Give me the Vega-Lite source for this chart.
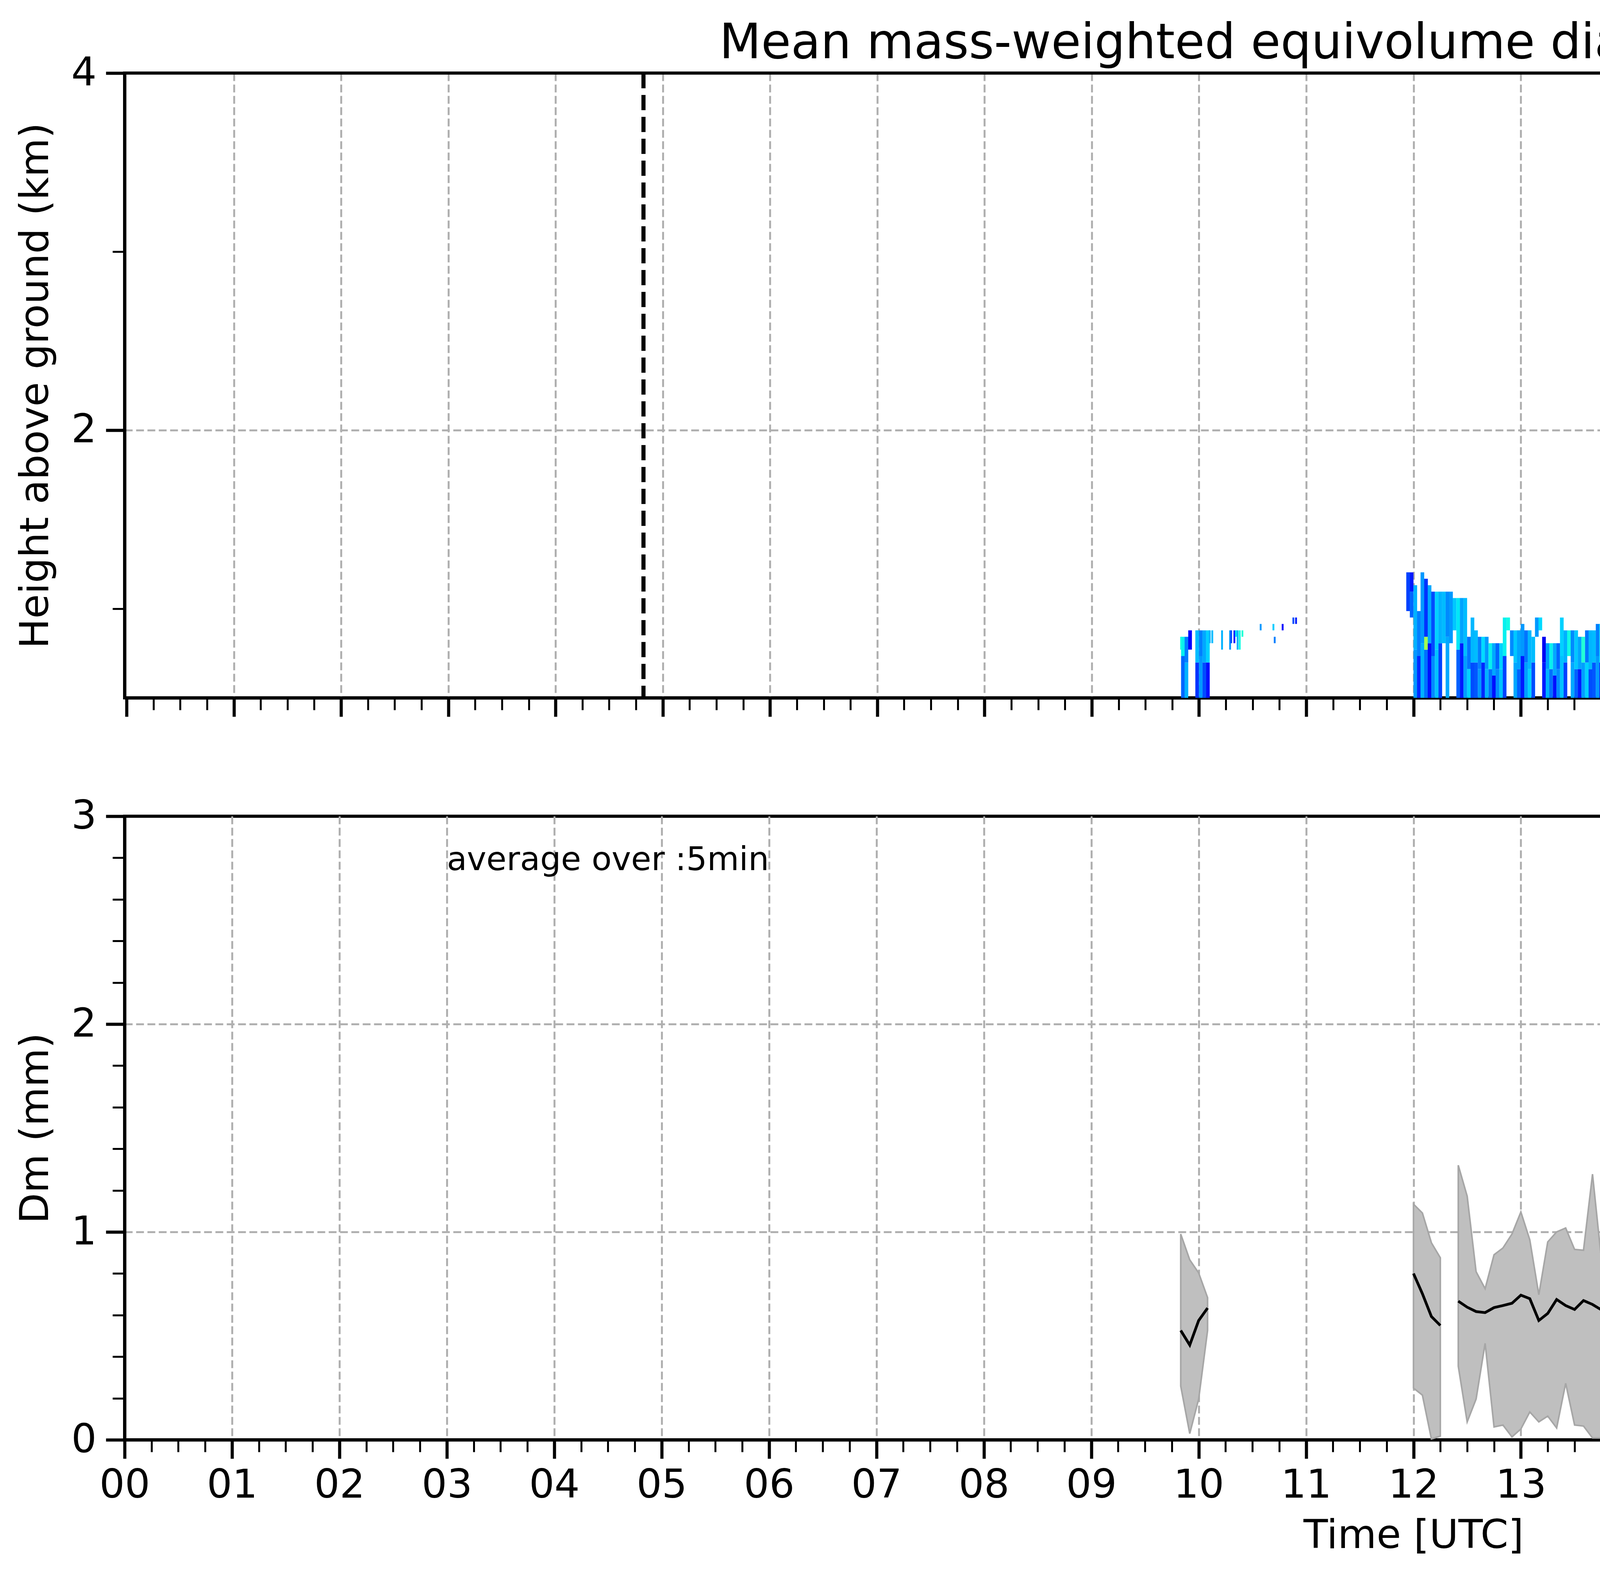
{
  "$schema": "https://vega.github.io/schema/vega-lite/v6.json",
  "background": "white",
  "padding": {"left": 36, "top": 46, "right": 40, "bottom": 58},
  "config": {
    "font": "DejaVu Sans",
    "view": {"stroke": "black", "strokeWidth": 8},
    "axis": {
      "zindex": 1,
      "domainColor": "black",
      "domainWidth": 8,
      "tickColor": "black",
      "labelColor": "black",
      "titleColor": "black",
      "labelFont": "DejaVu Sans",
      "titleFont": "DejaVu Sans",
      "labelFontSize": 102,
      "titleFontSize": 102,
      "titleFontWeight": "normal",
      "gridColor": "#b0b0b0",
      "gridDash": [20, 9],
      "gridWidth": 5,
      "labelOverlap": false,
      "labelFlush": false
    },
    "title": {"font": "DejaVu Sans", "fontSize": 124, "fontWeight": "normal", "color": "black"}
  },
  "datasets": {
    "hm": [
      {"t":9.85,"a":0.5,"b":0.734,"d":0.45},{"t":9.85,"a":0.734,"b":0.842,"d":0.72},
      {"t":9.883,"a":0.5,"b":0.698,"d":0.6},{"t":9.883,"a":0.698,"b":0.842,"d":0.5},
      {"t":9.917,"a":0.77,"b":0.878,"d":0.25},
      {"t":9.983,"a":0.5,"b":0.698,"d":0.35},{"t":9.983,"a":0.698,"b":0.878,"d":0.62},
      {"t":10.017,"a":0.5,"b":0.734,"d":0.55},{"t":10.017,"a":0.734,"b":0.878,"d":0.5},
      {"t":10.05,"a":0.5,"b":0.698,"d":0.4},{"t":10.05,"a":0.698,"b":0.878,"d":0.58},
      {"t":10.083,"a":0.5,"b":0.698,"d":0.28},{"t":10.083,"a":0.698,"b":0.878,"d":0.66},
      {"t":11.95,"a":0.986,"b":1.203,"d":0.38},
      {"t":11.983,"a":0.95,"b":1.095,"d":0.45},{"t":11.983,"a":1.095,"b":1.203,"d":0.3},
      {"t":12.017,"a":0.5,"b":0.77,"d":0.55},{"t":12.017,"a":0.77,"b":1.131,"d":0.6},
      {"t":12.05,"a":0.5,"b":0.734,"d":0.33},{"t":12.05,"a":0.734,"b":0.986,"d":0.5},
      {"t":12.083,"a":0.5,"b":0.806,"d":0.6},{"t":12.083,"a":0.806,"b":1.203,"d":0.55},
      {"t":12.117,"a":0.5,"b":0.77,"d":0.47},{"t":12.117,"a":0.77,"b":0.842,"d":1.1},{"t":12.117,"a":0.842,"b":1.167,"d":0.35},
      {"t":12.15,"a":0.5,"b":0.806,"d":0.28},{"t":12.15,"a":0.806,"b":1.131,"d":0.58},
      {"t":12.183,"a":0.5,"b":0.734,"d":0.52},{"t":12.183,"a":0.734,"b":1.095,"d":0.4},
      {"t":12.217,"a":0.5,"b":0.77,"d":0.63},{"t":12.217,"a":0.77,"b":1.095,"d":0.66},
      {"t":12.25,"a":0.5,"b":0.806,"d":0.38},{"t":12.25,"a":0.806,"b":1.095,"d":0.6},
      {"t":12.283,"a":0.806,"b":1.095,"d":0.62},
      {"t":12.317,"a":0.5,"b":0.842,"d":0.58},{"t":12.317,"a":0.842,"b":1.095,"d":0.52},
      {"t":12.35,"a":0.806,"b":1.095,"d":0.55},
      {"t":12.383,"a":0.878,"b":1.059,"d":0.64},
      {"t":12.417,"a":0.5,"b":0.77,"d":0.44},{"t":12.417,"a":0.77,"b":1.059,"d":0.7},
      {"t":12.45,"a":0.5,"b":0.806,"d":0.3},{"t":12.45,"a":0.806,"b":1.059,"d":0.57},
      {"t":12.483,"a":0.5,"b":0.734,"d":0.56},{"t":12.483,"a":0.734,"b":1.059,"d":0.62},
      {"t":12.517,"a":0.5,"b":0.661,"d":0.66},{"t":12.517,"a":0.661,"b":0.842,"d":0.48},
      {"t":12.55,"a":0.5,"b":0.698,"d":0.4},{"t":12.55,"a":0.698,"b":0.95,"d":0.61},
      {"t":12.583,"a":0.5,"b":0.698,"d":0.42},{"t":12.583,"a":0.698,"b":0.878,"d":0.62},
      {"t":12.617,"a":0.5,"b":0.661,"d":0.55},{"t":12.617,"a":0.661,"b":0.842,"d":0.5},
      {"t":12.65,"a":0.5,"b":0.698,"d":0.33},{"t":12.65,"a":0.698,"b":0.842,"d":0.68},
      {"t":12.683,"a":0.5,"b":0.661,"d":0.6},{"t":12.683,"a":0.661,"b":0.842,"d":0.55},
      {"t":12.717,"a":0.5,"b":0.661,"d":0.47},{"t":12.717,"a":0.661,"b":0.806,"d":0.72},
      {"t":12.75,"a":0.5,"b":0.625,"d":0.28},{"t":12.75,"a":0.625,"b":0.806,"d":0.58},
      {"t":12.783,"a":0.5,"b":0.661,"d":0.52},{"t":12.783,"a":0.661,"b":0.806,"d":0.45},
      {"t":12.817,"a":0.5,"b":0.661,"d":0.63},{"t":12.817,"a":0.661,"b":0.806,"d":0.66},
      {"t":12.85,"a":0.5,"b":0.734,"d":0.38},{"t":12.85,"a":0.734,"b":0.95,"d":0.72},
      {"t":12.883,"a":0.878,"b":0.95,"d":0.74},
      {"t":12.917,"a":0.734,"b":0.878,"d":0.52},
      {"t":12.95,"a":0.5,"b":0.698,"d":0.58},{"t":12.95,"a":0.698,"b":0.878,"d":0.64},
      {"t":12.983,"a":0.5,"b":0.661,"d":0.44},{"t":12.983,"a":0.661,"b":0.878,"d":0.57},
      {"t":13.017,"a":0.5,"b":0.734,"d":0.3},{"t":13.017,"a":0.734,"b":0.914,"d":0.55},
      {"t":13.05,"a":0.5,"b":0.698,"d":0.56},{"t":13.05,"a":0.698,"b":0.878,"d":0.48},
      {"t":13.083,"a":0.5,"b":0.661,"d":0.66},{"t":13.083,"a":0.661,"b":0.878,"d":0.61},
      {"t":13.117,"a":0.5,"b":0.698,"d":0.4},{"t":13.117,"a":0.698,"b":0.842,"d":0.62},
      {"t":13.15,"a":0.842,"b":0.95,"d":0.55},
      {"t":13.183,"a":0.878,"b":0.95,"d":0.68},
      {"t":13.217,"a":0.5,"b":0.698,"d":0.3},{"t":13.217,"a":0.698,"b":0.842,"d":0.2},
      {"t":13.25,"a":0.5,"b":0.661,"d":0.6},{"t":13.25,"a":0.661,"b":0.806,"d":0.55},
      {"t":13.283,"a":0.5,"b":0.661,"d":0.47},{"t":13.283,"a":0.661,"b":0.806,"d":0.72},
      {"t":13.317,"a":0.5,"b":0.625,"d":0.28},{"t":13.317,"a":0.625,"b":0.806,"d":0.58},
      {"t":13.35,"a":0.5,"b":0.661,"d":0.52},{"t":13.35,"a":0.661,"b":0.806,"d":0.45},
      {"t":13.383,"a":0.5,"b":0.734,"d":0.63},{"t":13.383,"a":0.734,"b":0.95,"d":0.66},
      {"t":13.417,"a":0.5,"b":0.698,"d":0.38},{"t":13.417,"a":0.698,"b":0.878,"d":0.6},
      {"t":13.45,"a":0.734,"b":0.878,"d":0.74},
      {"t":13.483,"a":0.5,"b":0.698,"d":0.58},{"t":13.483,"a":0.698,"b":0.878,"d":0.52},
      {"t":13.517,"a":0.5,"b":0.661,"d":0.44},{"t":13.517,"a":0.661,"b":0.878,"d":0.64},
      {"t":13.55,"a":0.5,"b":0.661,"d":0.3},{"t":13.55,"a":0.661,"b":0.842,"d":0.57},
      {"t":13.583,"a":0.5,"b":0.698,"d":0.56},{"t":13.583,"a":0.698,"b":0.842,"d":0.78},
      {"t":13.617,"a":0.5,"b":0.698,"d":0.66},{"t":13.617,"a":0.698,"b":0.878,"d":0.48},
      {"t":13.65,"a":0.5,"b":0.661,"d":0.4},{"t":13.65,"a":0.661,"b":0.878,"d":0.61},
      {"t":13.683,"a":0.5,"b":0.698,"d":0.42},{"t":13.683,"a":0.698,"b":0.878,"d":0.62},
      {"t":13.717,"a":0.5,"b":0.734,"d":0.55},{"t":13.717,"a":0.734,"b":0.914,"d":0.5},
      {"t":13.75,"a":0.5,"b":0.698,"d":0.33},{"t":13.75,"a":0.698,"b":0.914,"d":0.68},
      {"t":13.783,"a":0.5,"b":0.734,"d":0.6},{"t":13.783,"a":0.734,"b":0.914,"d":0.55},
      {"t":13.817,"a":0.5,"b":0.698,"d":0.47},{"t":13.817,"a":0.698,"b":0.914,"d":0.72},
      {"t":13.85,"a":0.5,"b":0.734,"d":0.28},{"t":13.85,"a":0.734,"b":0.914,"d":0.58},
      {"t":13.883,"a":0.5,"b":0.698,"d":0.52},{"t":13.883,"a":0.698,"b":0.914,"d":0.45},
      {"t":13.917,"a":0.5,"b":0.661,"d":0.63},{"t":13.917,"a":0.661,"b":0.842,"d":0.66},
      {"t":13.95,"a":0.5,"b":0.698,"d":0.38},{"t":13.95,"a":0.698,"b":0.842,"d":0.6},
      {"t":13.983,"a":0.5,"b":0.734,"d":0.5},{"t":13.983,"a":0.734,"b":0.95,"d":0.74},
      {"t":14.017,"a":0.5,"b":0.734,"d":0.58},{"t":14.017,"a":0.734,"b":0.95,"d":0.52},
      {"t":14.05,"a":0.5,"b":0.698,"d":0.44},{"t":14.05,"a":0.698,"b":0.914,"d":0.64},
      {"t":14.083,"a":0.5,"b":0.734,"d":0.3},{"t":14.083,"a":0.734,"b":0.914,"d":0.57},
      {"t":14.117,"a":0.5,"b":0.698,"d":0.56},{"t":14.117,"a":0.698,"b":0.914,"d":0.78},
      {"t":14.15,"a":0.5,"b":0.661,"d":0.66},{"t":14.15,"a":0.661,"b":0.878,"d":0.48},
      {"t":14.183,"a":0.5,"b":0.698,"d":0.4},{"t":14.183,"a":0.698,"b":0.878,"d":0.61},
      {"t":14.217,"a":0.5,"b":0.77,"d":0.42},{"t":14.217,"a":0.77,"b":1.022,"d":0.6},
      {"t":14.25,"a":0.5,"b":0.734,"d":0.55},{"t":14.25,"a":0.734,"b":0.986,"d":0.5},
      {"t":14.283,"a":0.5,"b":0.734,"d":0.33},{"t":14.283,"a":0.734,"b":0.95,"d":0.68},
      {"t":14.317,"a":0.5,"b":0.698,"d":0.6},{"t":14.317,"a":0.698,"b":0.878,"d":0.55},
      {"t":14.35,"a":0.5,"b":0.698,"d":0.47},{"t":14.35,"a":0.698,"b":0.914,"d":0.62},
      {"t":14.383,"a":0.5,"b":0.734,"d":0.28},{"t":14.383,"a":0.734,"b":0.914,"d":0.58},
      {"t":14.417,"a":0.5,"b":0.698,"d":0.52},{"t":14.417,"a":0.698,"b":0.914,"d":0.45},
      {"t":14.45,"a":0.5,"b":0.661,"d":0.63},{"t":14.45,"a":0.661,"b":0.878,"d":0.66},
      {"t":14.483,"a":0.5,"b":0.698,"d":0.38},{"t":14.483,"a":0.698,"b":0.878,"d":0.6},
      {"t":14.517,"a":0.5,"b":0.734,"d":0.5},{"t":14.517,"a":0.734,"b":0.914,"d":0.62},
      {"t":14.55,"a":0.5,"b":0.734,"d":0.58},{"t":14.55,"a":0.734,"b":0.95,"d":0.52},
      {"t":14.583,"a":0.5,"b":0.734,"d":0.44},{"t":14.583,"a":0.734,"b":0.986,"d":0.64},
      {"t":14.617,"a":0.734,"b":1.022,"d":0.57},
      {"t":14.65,"a":0.5,"b":0.734,"d":0.56},{"t":14.65,"a":0.734,"b":0.95,"d":0.72},
      {"t":14.683,"a":0.5,"b":0.698,"d":0.66},{"t":14.683,"a":0.698,"b":0.914,"d":0.48},
      {"t":14.717,"a":0.5,"b":0.734,"d":0.4},{"t":14.717,"a":0.734,"b":0.914,"d":0.61},
      {"t":14.75,"a":0.5,"b":0.698,"d":0.42},{"t":14.75,"a":0.698,"b":0.914,"d":0.62},
      {"t":14.783,"a":0.5,"b":0.734,"d":0.55},{"t":14.783,"a":0.734,"b":0.914,"d":0.5},
      {"t":14.817,"a":0.5,"b":0.698,"d":0.33},{"t":14.817,"a":0.698,"b":0.914,"d":0.68},
      {"t":14.85,"a":0.5,"b":0.734,"d":0.6},{"t":14.85,"a":0.734,"b":0.914,"d":0.55},
      {"t":14.883,"a":0.5,"b":0.698,"d":0.47},{"t":14.883,"a":0.698,"b":0.878,"d":0.72},
      {"t":14.917,"a":0.5,"b":0.661,"d":0.28},{"t":14.917,"a":0.661,"b":0.878,"d":0.58},
      {"t":14.95,"a":0.5,"b":0.698,"d":0.52},{"t":14.95,"a":0.698,"b":0.878,"d":0.45},
      {"t":14.983,"a":0.5,"b":0.661,"d":0.63},{"t":14.983,"a":0.661,"b":0.878,"d":0.66},
      {"t":15.017,"a":0.5,"b":0.77,"d":0.38},{"t":15.017,"a":0.77,"b":1.022,"d":0.6},
      {"t":15.05,"a":0.5,"b":0.806,"d":0.5},{"t":15.05,"a":0.806,"b":1.022,"d":0.74},
      {"t":15.083,"a":0.77,"b":0.986,"d":0.52},
      {"t":15.117,"a":0.5,"b":0.734,"d":0.58},{"t":15.117,"a":0.734,"b":0.914,"d":0.64},
      {"t":15.15,"a":0.5,"b":0.698,"d":0.44},{"t":15.15,"a":0.698,"b":0.914,"d":0.57},
      {"t":15.183,"a":0.5,"b":0.734,"d":0.3},{"t":15.183,"a":0.734,"b":0.914,"d":0.78},
      {"t":15.217,"a":0.5,"b":0.698,"d":0.56},{"t":15.217,"a":0.698,"b":0.878,"d":0.48},
      {"t":15.283,"a":0.5,"b":0.661,"d":0.66},{"t":15.283,"a":0.661,"b":0.842,"d":0.61},
      {"t":15.317,"a":0.5,"b":0.734,"d":0.4},{"t":15.317,"a":0.734,"b":0.914,"d":0.62},
      {"t":15.35,"a":0.5,"b":0.698,"d":0.42},{"t":15.35,"a":0.698,"b":0.914,"d":0.5},
      {"t":15.383,"a":0.5,"b":0.734,"d":0.55},{"t":15.383,"a":0.734,"b":0.914,"d":0.68},
      {"t":15.417,"a":0.5,"b":0.77,"d":0.33},{"t":15.417,"a":0.77,"b":1.022,"d":0.55},
      {"t":15.45,"a":0.77,"b":1.022,"d":0.62},
      {"t":15.483,"a":0.5,"b":0.77,"d":0.6},{"t":15.483,"a":0.77,"b":0.986,"d":0.72},
      {"t":15.517,"a":0.5,"b":0.734,"d":0.47},{"t":15.517,"a":0.734,"b":0.95,"d":0.58},
      {"t":15.55,"a":0.5,"b":0.734,"d":0.28},{"t":15.55,"a":0.734,"b":0.986,"d":0.45},
      {"t":15.583,"a":0.5,"b":0.77,"d":0.52},{"t":15.583,"a":0.77,"b":0.986,"d":0.66},
      {"t":15.617,"a":0.5,"b":0.734,"d":0.63},{"t":15.617,"a":0.734,"b":0.986,"d":0.6},
      {"t":15.65,"a":0.5,"b":0.734,"d":0.38},{"t":15.65,"a":0.734,"b":0.95,"d":0.74},
      {"t":15.683,"a":0.77,"b":0.95,"d":0.52},
      {"t":15.717,"a":0.5,"b":0.734,"d":0.5},{"t":15.717,"a":0.734,"b":0.914,"d":0.64},
      {"t":15.75,"a":0.5,"b":0.698,"d":0.58},{"t":15.75,"a":0.698,"b":0.914,"d":0.57},
      {"t":15.783,"a":0.5,"b":0.734,"d":0.44},{"t":15.783,"a":0.734,"b":0.914,"d":0.78},
      {"t":15.817,"a":0.5,"b":0.698,"d":0.3},{"t":15.817,"a":0.698,"b":0.914,"d":0.48},
      {"t":15.85,"a":0.5,"b":0.734,"d":0.56},{"t":15.85,"a":0.734,"b":0.914,"d":0.61},
      {"t":15.883,"a":0.5,"b":0.698,"d":0.66},{"t":15.883,"a":0.698,"b":0.878,"d":0.62},
      {"t":15.917,"a":0.5,"b":0.661,"d":0.4},{"t":15.917,"a":0.661,"b":0.878,"d":0.5},
      {"t":15.95,"a":0.5,"b":0.698,"d":0.42},{"t":15.95,"a":0.698,"b":0.842,"d":0.68},
      {"t":15.983,"a":0.5,"b":0.661,"d":0.55},{"t":15.983,"a":0.661,"b":0.842,"d":0.55},
      {"t":16.017,"a":0.5,"b":0.698,"d":0.33},{"t":16.017,"a":0.698,"b":0.842,"d":0.72},
      {"t":16.05,"a":0.5,"b":0.661,"d":0.6},{"t":16.05,"a":0.661,"b":0.806,"d":0.58},
      {"t":16.083,"a":0.5,"b":0.625,"d":0.47},{"t":16.083,"a":0.625,"b":0.806,"d":0.45},
      {"t":16.117,"a":0.5,"b":0.698,"d":0.28},{"t":16.117,"a":0.698,"b":0.878,"d":0.66},
      {"t":16.15,"a":0.5,"b":0.661,"d":0.52},{"t":16.15,"a":0.661,"b":0.878,"d":0.6},
      {"t":16.183,"a":0.878,"b":0.986,"d":0.74},
      {"t":16.283,"a":0.734,"b":0.986,"d":0.5},
      {"t":16.317,"a":0.5,"b":0.734,"d":0.63},{"t":16.317,"a":0.734,"b":0.95,"d":0.52},
      {"t":16.35,"a":0.5,"b":0.698,"d":0.38},{"t":16.35,"a":0.698,"b":0.95,"d":0.64},
      {"t":16.383,"a":0.5,"b":0.734,"d":0.5},{"t":16.383,"a":0.734,"b":0.95,"d":0.57},
      {"t":16.417,"a":0.661,"b":0.986,"d":0.61},
      {"t":16.95,"a":0.77,"b":0.95,"d":0.55},
      {"t":16.983,"a":0.5,"b":0.698,"d":0.6},{"t":16.983,"a":0.698,"b":0.878,"d":0.55},
      {"t":17.017,"a":0.5,"b":0.734,"d":0.5},{"t":17.017,"a":0.734,"b":0.878,"d":0.6},
      {"t":17.05,"a":0.5,"b":0.698,"d":0.58},{"t":17.05,"a":0.698,"b":0.878,"d":0.55},
      {"t":17.083,"a":0.5,"b":0.734,"d":0.52},{"t":17.083,"a":0.734,"b":0.878,"d":0.62},
      {"t":17.117,"a":0.5,"b":0.698,"d":0.55},{"t":17.117,"a":0.698,"b":0.95,"d":0.58},
      {"t":17.15,"a":0.806,"b":0.986,"d":0.55},
      {"t":17.183,"a":0.806,"b":0.986,"d":0.52},
      {"t":17.217,"a":0.77,"b":0.986,"d":0.56},
      {"t":17.25,"a":0.806,"b":0.986,"d":0.54},
      {"t":17.283,"a":0.842,"b":0.986,"d":0.55},
      {"t":17.317,"a":0.878,"b":0.95,"d":0.52},
      {"t":17.35,"a":0.842,"b":0.986,"d":0.56},
      {"t":17.383,"a":0.878,"b":0.986,"d":0.53},
      {"t":17.417,"a":0.878,"b":0.95,"d":0.55},
      {"t":17.45,"a":0.878,"b":0.986,"d":0.55},
      {"t":17.483,"a":0.878,"b":0.986,"d":0.52},
      {"t":17.517,"a":0.878,"b":0.986,"d":0.55},
      {"t":17.55,"a":0.878,"b":0.95,"d":0.54},
      {"t":17.8,"a":0.878,"b":0.986,"d":0.57},
      {"t":17.833,"a":0.914,"b":0.986,"d":0.55},
      {"t":18.567,"a":0.878,"b":0.986,"d":0.52},
      {"t":18.6,"a":0.77,"b":0.986,"d":0.5},
      {"t":18.633,"a":0.77,"b":0.95,"d":0.55},
      {"t":18.667,"a":0.77,"b":0.914,"d":0.5},
      {"t":18.7,"a":0.77,"b":0.878,"d":0.53},
      {"t":18.733,"a":0.5,"b":0.698,"d":0.48},{"t":18.733,"a":0.698,"b":0.842,"d":0.55},
      {"t":18.767,"a":0.5,"b":0.661,"d":0.4},{"t":18.767,"a":0.661,"b":0.806,"d":0.52},
      {"t":18.8,"a":0.5,"b":0.734,"d":0.5},{"t":18.8,"a":0.734,"b":0.914,"d":0.55},
      {"t":18.833,"a":0.5,"b":0.734,"d":0.45},{"t":18.833,"a":0.734,"b":1.059,"d":0.52},
      {"t":18.867,"a":0.5,"b":0.698,"d":0.55},{"t":18.867,"a":0.698,"b":1.059,"d":0.5},{"t":18.867,"a":1.059,"b":1.167,"d":0.56},
      {"t":18.9,"a":0.5,"b":0.734,"d":0.35},{"t":18.9,"a":0.986,"b":1.167,"d":0.5},
      {"t":18.933,"a":0.5,"b":0.734,"d":0.5},{"t":18.933,"a":0.878,"b":1.167,"d":0.53},
      {"t":18.967,"a":0.5,"b":0.625,"d":0.45},{"t":18.967,"a":0.878,"b":1.167,"d":0.55},
      {"t":19.0,"a":0.806,"b":1.167,"d":0.52},
      {"t":19.033,"a":0.806,"b":1.131,"d":0.55},
      {"t":19.067,"a":0.95,"b":1.167,"d":0.5}
    ],
    "thin": [
      {"t":9.833,"a":0.77,"b":0.842,"d":0.75},
      {"t":10.1,"a":0.806,"b":0.878,"d":0.6},
      {"t":10.124,"a":0.806,"b":0.878,"d":0.62},
      {"t":10.215,"a":0.77,"b":0.878,"d":0.6},
      {"t":10.29,"a":0.77,"b":0.878,"d":0.55},
      {"t":10.3,"a":0.806,"b":0.878,"d":0.4},
      {"t":10.33,"a":0.806,"b":0.878,"d":0.3},
      {"t":10.345,"a":0.842,"b":0.878,"d":0.7},
      {"t":10.36,"a":0.77,"b":0.878,"d":0.6},
      {"t":10.38,"a":0.77,"b":0.878,"d":0.75},
      {"t":10.405,"a":0.842,"b":0.878,"d":0.78},
      {"t":10.575,"a":0.878,"b":0.914,"d":0.55},
      {"t":10.694,"a":0.878,"b":0.914,"d":0.65},
      {"t":10.706,"a":0.806,"b":0.842,"d":0.5},
      {"t":10.78,"a":0.878,"b":0.914,"d":0.25},
      {"t":10.88,"a":0.914,"b":0.95,"d":0.4},
      {"t":10.905,"a":0.914,"b":0.95,"d":0.3},
      {"t":16.683,"a":0.77,"b":0.95,"d":0.65},
      {"t":16.9,"a":0.914,"b":0.95,"d":0.6}
    ],
    "dm": [
      {"t":9.833,"m":0.526,"lo":0.258,"hi":0.99,"s":1},
      {"t":9.917,"m":0.456,"lo":0.03,"hi":0.866,"s":1},
      {"t":10.0,"m":0.574,"lo":0.196,"hi":0.803,"s":1},
      {"t":10.083,"m":0.634,"lo":0.526,"hi":0.684,"s":1},
      {"t":12.0,"m":0.8,"lo":0.249,"hi":1.134,"s":2},
      {"t":12.083,"m":0.703,"lo":0.215,"hi":1.091,"s":2},
      {"t":12.167,"m":0.593,"lo":0.004,"hi":0.948,"s":2},
      {"t":12.25,"m":0.55,"lo":0.018,"hi":0.876,"s":2},
      {"t":12.417,"m":0.667,"lo":0.354,"hi":1.321,"s":3},
      {"t":12.5,"m":0.638,"lo":0.086,"hi":1.172,"s":3},
      {"t":12.583,"m":0.617,"lo":0.196,"hi":0.809,"s":3},
      {"t":12.667,"m":0.612,"lo":0.464,"hi":0.727,"s":3},
      {"t":12.75,"m":0.636,"lo":0.062,"hi":0.89,"s":3},
      {"t":12.833,"m":0.646,"lo":0.071,"hi":0.923,"s":3},
      {"t":12.917,"m":0.657,"lo":0.014,"hi":0.99,"s":3},
      {"t":13.0,"m":0.696,"lo":0.052,"hi":1.096,"s":3},
      {"t":13.083,"m":0.679,"lo":0.134,"hi":0.962,"s":3},
      {"t":13.167,"m":0.574,"lo":0.086,"hi":0.698,"s":3},
      {"t":13.25,"m":0.608,"lo":0.114,"hi":0.952,"s":3},
      {"t":13.333,"m":0.675,"lo":0.057,"hi":1.0,"s":3},
      {"t":13.417,"m":0.646,"lo":0.272,"hi":1.019,"s":3},
      {"t":13.5,"m":0.627,"lo":0.071,"hi":0.916,"s":3},
      {"t":13.583,"m":0.67,"lo":0.066,"hi":0.912,"s":3},
      {"t":13.667,"m":0.651,"lo":0.009,"hi":1.278,"s":3},
      {"t":13.75,"m":0.625,"lo":0.009,"hi":0.866,"s":3},
      {"t":13.833,"m":0.608,"lo":0.038,"hi":0.883,"s":3},
      {"t":13.917,"m":0.667,"lo":0.373,"hi":0.904,"s":3},
      {"t":14.0,"m":0.584,"lo":0.167,"hi":0.856,"s":3},
      {"t":14.083,"m":0.617,"lo":0.421,"hi":0.809,"s":3},
      {"t":14.167,"m":0.663,"lo":0.043,"hi":0.887,"s":3},
      {"t":14.25,"m":0.512,"lo":0.182,"hi":0.876,"s":3},
      {"t":14.333,"m":0.562,"lo":0.138,"hi":0.77,"s":3},
      {"t":14.417,"m":0.514,"lo":0.172,"hi":0.799,"s":3},
      {"t":14.5,"m":0.595,"lo":0.033,"hi":0.861,"s":3},
      {"t":14.583,"m":0.545,"lo":0.205,"hi":1.062,"s":3},
      {"t":14.667,"m":0.6,"lo":0.1,"hi":0.952,"s":3},
      {"t":14.75,"m":0.569,"lo":0.071,"hi":0.77,"s":3},
      {"t":14.833,"m":0.617,"lo":0.134,"hi":0.923,"s":3},
      {"t":14.917,"m":0.653,"lo":0.004,"hi":0.966,"s":3},
      {"t":15.0,"m":0.565,"lo":0.009,"hi":0.885,"s":3},
      {"t":15.083,"m":0.646,"lo":0.028,"hi":1.0,"s":3},
      {"t":15.167,"m":0.629,"lo":0.004,"hi":1.024,"s":3},
      {"t":15.25,"m":0.588,"lo":0.033,"hi":1.057,"s":3},
      {"t":15.333,"m":0.617,"lo":0.138,"hi":0.966,"s":3},
      {"t":15.417,"m":0.636,"lo":0.234,"hi":1.163,"s":3},
      {"t":15.5,"m":0.574,"lo":0.148,"hi":0.99,"s":3},
      {"t":15.583,"m":0.593,"lo":0.287,"hi":0.708,"s":3},
      {"t":15.667,"m":0.545,"lo":0.277,"hi":0.708,"s":3},
      {"t":15.75,"m":0.612,"lo":0.268,"hi":0.847,"s":3},
      {"t":15.833,"m":0.644,"lo":0.296,"hi":0.861,"s":3},
      {"t":15.917,"m":0.646,"lo":0.292,"hi":0.785,"s":3},
      {"t":16.0,"m":0.61,"lo":0.239,"hi":0.856,"s":3},
      {"t":16.083,"m":0.59,"lo":0.249,"hi":0.99,"s":3},
      {"t":16.167,"m":0.794,"lo":0.24,"hi":0.8,"s":3},
      {"t":16.25,"m":0.636,"lo":0.024,"hi":0.947,"s":3},
      {"t":16.333,"m":0.657,"lo":0.225,"hi":0.847,"s":3},
      {"t":16.917,"m":0.646,"lo":0.6,"hi":0.68,"s":4},
      {"t":17.0,"m":0.608,"lo":0.245,"hi":0.71,"s":4},
      {"t":17.083,"m":0.584,"lo":0.464,"hi":0.71,"s":4},
      {"t":18.667,"m":0.545,"lo":0.392,"hi":0.765,"s":5},
      {"t":18.75,"m":0.56,"lo":0.11,"hi":0.77,"s":5},
      {"t":18.833,"m":0.526,"lo":0.249,"hi":0.684,"s":5}
    ]
  },
  "vconcat": [
    {
      "hconcat": [
        {
          "width": 6599,
          "height": 1599,
          "title": {"text": "Mean mass-weighted equivolume diameter on 20260402", "frame": "group", "anchor": "middle", "offset": -39},
          "layer": [
            {
              "data": {"values": [{"s": 20, "e": 24}]},
              "mark": {"type": "rect", "color": "#d9d9d9"},
              "encoding": {
                "x": {
                  "field": "s", "type": "quantitative",
                  "scale": {"domain": [0, 24], "nice": false, "zero": false},
                  "axis": {
                    "orient": "bottom",
                    "values": [0,0.25,0.5,0.75,1,1.25,1.5,1.75,2,2.25,2.5,2.75,3,3.25,3.5,3.75,4,4.25,4.5,4.75,5,5.25,5.5,5.75,6,6.25,6.5,6.75,7,7.25,7.5,7.75,8,8.25,8.5,8.75,9,9.25,9.5,9.75,10,10.25,10.5,10.75,11,11.25,11.5,11.75,12,12.25,12.5,12.75,13,13.25,13.5,13.75,14,14.25,14.5,14.75,15,15.25,15.5,15.75,16,16.25,16.5,16.75,17,17.25,17.5,17.75,18,18.25,18.5,18.75,19,19.25,19.5,19.75,20,20.25,20.5,20.75,21,21.25,21.5,21.75,22,22.25,22.5,22.75,23,23.25,23.5,23.75,24],
                    "labels": false,
                    "title": null,
                    "grid": true,
                    "gridOpacity": {"condition": {"test": "datum.value % 1 === 0 && datum.value > 0 && datum.value < 24", "value": 1}, "value": 0},
                    "tickSize": {"condition": {"test": "datum.value % 1 === 0 && datum.value < 24", "value": 48}, "value": 31},
                    "tickWidth": {"condition": {"test": "datum.value % 1 === 0 && datum.value < 24", "value": 8}, "value": 5}
                  }
                },
                "x2": {"field": "e"}
              }
            },
            {
              "data": {"name": "hm"},
              "mark": {"type": "bar", "width": 9.4, "clip": true},
              "encoding": {
                "x": {"field": "t", "type": "quantitative"},
                "y": {
                  "field": "a", "type": "quantitative",
                  "scale": {"domain": [0.5, 4], "nice": false, "zero": false},
                  "axis": {
                    "values": [1, 2, 3, 4],
                    "labelExpr": "datum.value % 2 === 0 ? '' + datum.value : ''",
                    "title": "Height above ground (km)",
                    "titlePadding": 39,
                    "labelPadding": 24,
                    "grid": true,
                    "gridOpacity": {"condition": {"test": "datum.value === 2", "value": 1}, "value": 0},
                    "tickSize": {"condition": {"test": "datum.value % 2 === 0", "value": 48}, "value": 31},
                    "tickWidth": {"condition": {"test": "datum.value % 2 === 0", "value": 8}, "value": 5}
                  }
                },
                "y2": {"field": "b"},
                "color": {
                  "field": "d", "type": "quantitative", "legend": null,
                  "scale": {
                    "domain": [0, 0.22, 0.25, 0.68, 0.7, 0.75, 1.28, 1.3, 1.32, 1.78, 1.82, 2],
                    "range": ["#000080", "#0000ff", "#0000ff", "#00dbff", "#00e6f7", "#15ffe2", "#eeff08", "#f7f600", "#ffec00", "#ff1300", "#e80000", "#800000"],
                    "interpolate": "rgb"
                  }
                }
              }
            },
            {
              "data": {"name": "thin"},
              "mark": {"type": "bar", "width": 4.7, "clip": true},
              "encoding": {
                "x": {"field": "t", "type": "quantitative"},
                "y": {"field": "a", "type": "quantitative"},
                "y2": {"field": "b"},
                "color": {"field": "d", "type": "quantitative", "legend": null}
              }
            },
            {
              "data": {"values": [{"t": 4.82}, {"t": 17.75}]},
              "mark": {"type": "rule", "color": "black", "strokeWidth": 10.5, "strokeDash": [39, 17]},
              "encoding": {"x": {"field": "t", "type": "quantitative"}}
            },
            {
              "data": {"values": [{"t": 24}]},
              "mark": {"type": "rule", "color": "black", "strokeWidth": 8},
              "encoding": {"x": {"field": "t", "type": "quantitative"}}
            },
            {
              "data": {"values": [{"h": 4}]},
              "mark": {"type": "rule", "color": "black", "strokeWidth": 8},
              "encoding": {"y": {"field": "h", "type": "quantitative"}}
            }
          ]
        },
        {
          "width": 112,
          "height": 1599,
          "view": {"stroke": null},
          "data": {"values": [{"lo": 0, "hi": 2}]},
          "mark": {
            "type": "rect",
            "stroke": "black",
            "strokeWidth": 4,
            "color": {
              "gradient": "linear", "x1": 0, "y1": 1, "x2": 0, "y2": 0,
              "stops": [
                {"offset": 0, "color": "#000080"},
                {"offset": 0.11, "color": "#0000ff"},
                {"offset": 0.125, "color": "#0000ff"},
                {"offset": 0.34, "color": "#00dbff"},
                {"offset": 0.35, "color": "#00e6f7"},
                {"offset": 0.375, "color": "#15ffe2"},
                {"offset": 0.64, "color": "#eeff08"},
                {"offset": 0.65, "color": "#f7f600"},
                {"offset": 0.66, "color": "#ffec00"},
                {"offset": 0.89, "color": "#ff1300"},
                {"offset": 0.91, "color": "#e80000"},
                {"offset": 1, "color": "#800000"}
              ]
            }
          },
          "encoding": {
            "y": {
              "field": "lo", "type": "quantitative",
              "scale": {"domain": [0, 2], "nice": false},
              "axis": {
                "orient": "right",
                "values": [0, 0.4, 0.8, 1.2, 1.6, 2],
                "format": ".1f",
                "grid": false,
                "domain": false,
                "tickSize": 21,
                "tickWidth": 4,
                "labelFontSize": 86,
                "labelPadding": 22,
                "title": "Dm (mm)",
                "titleFontSize": 84,
                "titleAngle": 270,
                "titleBaseline": "top",
                "titlePadding": 17
              }
            },
            "y2": {"field": "hi"}
          }
        }
      ],
      "spacing": 75,
      "bounds": "flush"
    },
    {
      "width": 6599,
      "height": 1596,
      "layer": [
        {
          "data": {"name": "dm"},
          "mark": {"type": "area", "color": "#bfbfbf", "stroke": "#a6a6a6", "strokeWidth": 4},
          "encoding": {
            "x": {
              "field": "t", "type": "quantitative",
              "scale": {"domain": [0, 24], "nice": false, "zero": false},
              "axis": {
                "orient": "bottom",
                "values": [0,0.25,0.5,0.75,1,1.25,1.5,1.75,2,2.25,2.5,2.75,3,3.25,3.5,3.75,4,4.25,4.5,4.75,5,5.25,5.5,5.75,6,6.25,6.5,6.75,7,7.25,7.5,7.75,8,8.25,8.5,8.75,9,9.25,9.5,9.75,10,10.25,10.5,10.75,11,11.25,11.5,11.75,12,12.25,12.5,12.75,13,13.25,13.5,13.75,14,14.25,14.5,14.75,15,15.25,15.5,15.75,16,16.25,16.5,16.75,17,17.25,17.5,17.75,18,18.25,18.5,18.75,19,19.25,19.5,19.75,20,20.25,20.5,20.75,21,21.25,21.5,21.75,22,22.25,22.5,22.75,23,23.25,23.5,23.75,24],
                "labelExpr": "datum.value % 1 === 0 && datum.value < 24 ? (datum.value < 10 ? '0' + datum.value : '' + datum.value) : ''",
                "title": "Time [UTC]",
                "labelPadding": 18,
                "titlePadding": 28,
                "grid": true,
                "gridOpacity": {"condition": {"test": "datum.value % 1 === 0 && datum.value > 0 && datum.value < 24", "value": 1}, "value": 0},
                "tickSize": {"condition": {"test": "datum.value % 1 === 0 && datum.value < 24", "value": 48}, "value": 31},
                "tickWidth": {"condition": {"test": "datum.value % 1 === 0 && datum.value < 24", "value": 8}, "value": 5}
              }
            },
            "y": {
              "field": "lo", "type": "quantitative",
              "scale": {"domain": [0, 3], "nice": false},
              "axis": {
                "values": [0,0.2,0.4,0.6,0.8,1,1.2,1.4,1.6,1.8,2,2.2,2.4,2.6,2.8,3],
                "labelExpr": "abs(datum.value - round(datum.value)) < 0.01 ? '' + round(datum.value) : ''",
                "title": "Dm (mm)",
                "titlePadding": 39,
                "labelPadding": 24,
                "grid": true,
                "gridOpacity": {"condition": {"test": "abs(datum.value - round(datum.value)) < 0.01 && datum.value > 0.5 && datum.value < 2.5", "value": 1}, "value": 0},
                "tickSize": {"condition": {"test": "abs(datum.value - round(datum.value)) < 0.01", "value": 48}, "value": 31},
                "tickWidth": {"condition": {"test": "abs(datum.value - round(datum.value)) < 0.01", "value": 8}, "value": 5}
              }
            },
            "y2": {"field": "hi"},
            "detail": {"field": "s"}
          }
        },
        {
          "data": {"name": "dm"},
          "mark": {"type": "line", "color": "black", "strokeWidth": 7},
          "encoding": {
            "x": {"field": "t", "type": "quantitative"},
            "y": {"field": "m", "type": "quantitative"},
            "detail": {"field": "s"}
          }
        },
        {
          "data": {"values": [{"t": 3, "v": 2.74, "label": "average over :5min"}]},
          "mark": {"type": "text", "align": "left", "baseline": "alphabetic", "fontSize": 84, "color": "black"},
          "encoding": {
            "x": {"field": "t", "type": "quantitative"},
            "y": {"field": "v", "type": "quantitative"},
            "text": {"field": "label"}
          }
        }
      ]
    }
  ],
  "spacing": 192
}
